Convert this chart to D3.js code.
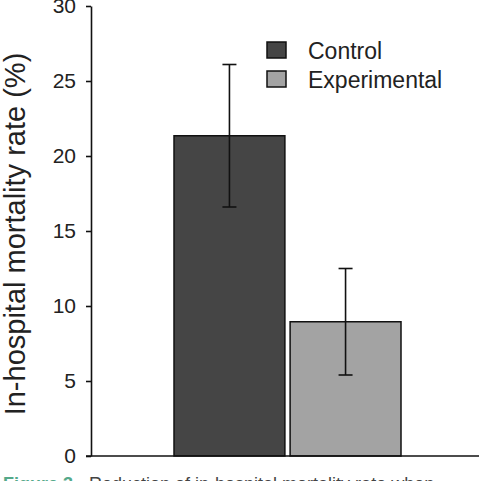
<!DOCTYPE html>
<html>
<head>
<meta charset="utf-8">
<script src="https://cdn.jsdelivr.net/npm/d3@7"></script>
<style>
  html, body { margin: 0; padding: 0; background: #fff; }
  svg { display: block; font-family: "Liberation Sans", Arial, sans-serif; }
</style>
</head>
<body>
<div id="chart"></div>
<script>
// groups and values
const groups    = ["Control", "Experimental"];
const rates     = [21.35, 8.95];   // in-hospital mortality rate (%)
const errors    = [4.75, 3.55];    // error bar half-length
const barColors = ["#454545", "#a3a3a3"];
const yTicks    = [0, 5, 10, 15, 20, 25, 30];

const W = 479, H = 481;
const svg = d3.select("#chart").append("svg").attr("width", W).attr("height", H);

const y = d3.scaleLinear().domain([0, 30]).range([456, 6]);
const x = d3.scaleBand().domain(groups).range([174, 401]).paddingInner(0.045);
const axisX = 91;

/* ---------- bars ---------- */
const data = groups.map((g, i) => ({ g, v: rates[i], e: errors[i], c: barColors[i] }));

svg.selectAll("rect.bar").data(data).enter().append("rect")
  .attr("class", "bar")
  .attr("x", d => x(d.g))
  .attr("y", d => y(d.v))
  .attr("width", x.bandwidth())
  .attr("height", d => y(0) - y(d.v))
  .attr("fill", d => d.c)
  .attr("stroke", "#111")
  .attr("stroke-width", 1.5);

/* ---------- error bars ---------- */
const err = svg.selectAll("g.err").data(data).enter().append("g")
  .attr("class", "err")
  .attr("stroke", "#111")
  .attr("stroke-width", 1.6);
err.append("line")
  .attr("x1", d => x(d.g) + x.bandwidth() / 2)
  .attr("x2", d => x(d.g) + x.bandwidth() / 2)
  .attr("y1", d => y(d.v + d.e))
  .attr("y2", d => y(d.v - d.e));
[1, -1].forEach(s => {
  err.append("line")
    .attr("x1", d => x(d.g) + x.bandwidth() / 2 - 7)
    .attr("x2", d => x(d.g) + x.bandwidth() / 2 + 7)
    .attr("y1", d => y(d.v + s * d.e))
    .attr("y2", d => y(d.v + s * d.e));
});

/* ---------- axes ---------- */
const yAxis = svg.append("g")
  .attr("transform", `translate(${axisX},0)`)
  .call(d3.axisLeft(y).tickValues(yTicks).tickSize(5).tickSizeOuter(0).tickPadding(10));
yAxis.select(".domain").attr("stroke", "#111").attr("stroke-width", 1.6);
yAxis.selectAll(".tick line").attr("stroke", "#111").attr("stroke-width", 1.6);
yAxis.selectAll(".tick text")
  .attr("font-size", 21)
  .attr("fill", "#222")
  .attr("font-family", "Liberation Sans, Arial, sans-serif");

svg.append("line")
  .attr("x1", axisX - 5).attr("x2", W)
  .attr("y1", y(0)).attr("y2", y(0))
  .attr("stroke", "#111").attr("stroke-width", 1.6);

svg.append("text")
  .attr("transform", `translate(25,${(y(0) + y(30)) / 2 + 3}) rotate(-90)`)
  .attr("text-anchor", "middle")
  .attr("font-size", 29)
  .attr("fill", "#222")
  .text("In-hospital mortality rate (%)");

/* ---------- legend ---------- */
const legend = svg.selectAll("g.leg").data(data).enter().append("g")
  .attr("class", "leg")
  .attr("transform", (d, i) => `translate(267,${42 + i * 29})`);
legend.append("rect")
  .attr("width", 19).attr("height", 16)
  .attr("fill", d => d.c)
  .attr("stroke", "#111").attr("stroke-width", 1.5);
legend.append("text")
  .attr("x", 41).attr("y", 16.5)
  .attr("font-size", 23)
  .attr("fill", "#222")
  .text(d => d.g);

/* ---------- caption (cut off at the bottom edge) ---------- */
const cap = svg.append("text").attr("x", 3).attr("y", 490).attr("font-size", 18);
cap.append("tspan").attr("fill", "#55a98a").attr("font-weight", "bold").text("Figure 3");
cap.append("tspan").attr("x", 89).attr("fill", "#444").text("Reduction of in-hospital mortality rate when");
</script>
</body>
</html>
